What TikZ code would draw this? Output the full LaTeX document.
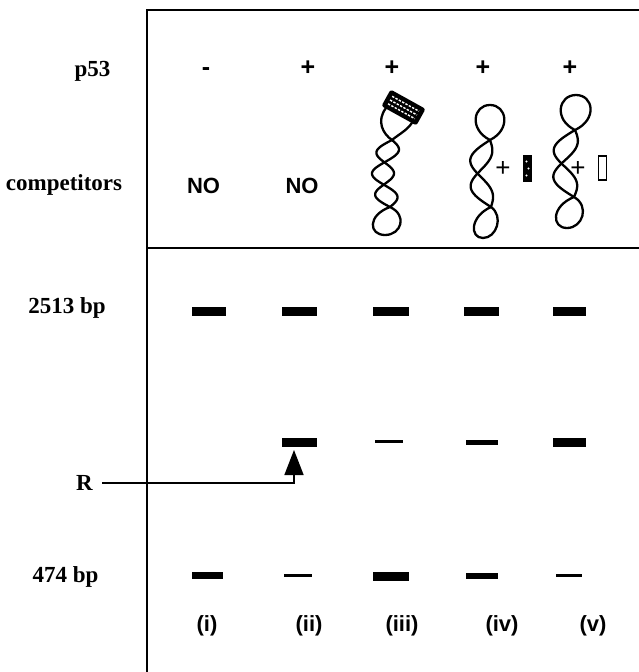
\documentclass[tikz,border=0pt]{standalone}
\usepackage{fontspec}
\setmainfont{Liberation Serif}
\newfontfamily\arialfont{Liberation Sans}
\usetikzlibrary{arrows.meta,calc}

% two strands of a twisted duplex between crossings (xT,yT) and (xB,yB)
% #5 = number of half turns, #6 = strand amplitude, #7 = sideways bow
\newcommand\dnapair[7]{%
  \foreach \sgn in {1,-1}{%
    \draw[dna] plot[domain=0:1,samples=60,smooth,variable=\t]
      ({#1+(#3-#1)*\t+#7*sin(180*\t)+\sgn*#6*sin(180*#5*\t)},{#2+(#4-#2)*\t});
  }%
}
% end loop of a duplex: crossing (#1,#2), loop centre x #3, extreme y #4, half width #5
\newcommand\dnaloop[5]{%
  \draw[dna] (#1,#2) .. controls ({#1-1.7*#5+0.5*(#3-#1)},{#2+0.3*(#4-#2)}) and ({#3-1.35*#5},#4) .. (#3,#4)
    .. controls ({#3+1.35*#5},#4) and ({#1+1.7*#5+0.5*(#3-#1)},{#2+0.3*(#4-#2)}) .. (#1,#2);
}

\tikzset{
  frame/.style={line width=1.6pt},
  dna/.style={line width=2.3pt, line join=round, line cap=round},
  band/.style={fill=black, draw=none, inner sep=0pt, outer sep=0pt},
  rowlabel/.style={font=\bfseries\fontsize{23}{26}\selectfont, inner sep=0pt},
  collabel/.style={font=\arialfont\bfseries\fontsize{22}{26}\selectfont, inner sep=0pt},
  signlabel/.style={font=\arialfont\bfseries\fontsize{25}{28}\selectfont, inner sep=0pt, anchor=base},
  thinplus/.style={font=\arialfont\fontsize{26}{28}\selectfont, inner sep=0pt},
  stripe/.style={white, line width=1.4pt, dash pattern=on 2.4pt off 1.4pt},
}

\begin{document}
\begin{tikzpicture}[x=1pt,y=-1pt]
\useasboundingbox (0,0) rectangle (639,672);

% frame
\coordinate (ftopleft) at (147,10);
\coordinate (ftopright) at (639,10);
\coordinate (fbottom) at (147,672);
\coordinate (fmidleft) at (147,248);
\coordinate (fmidright) at (639,248);
\draw[frame] (ftopright) -- (ftopleft) -- (fbottom);
\draw[frame] (fmidleft) -- (fmidright);

% row labels
\node[rowlabel] (p53) at (92.5,71) {p53};
\node[rowlabel] (comp) at (64,185) {competitors};
\node[rowlabel] (kb2513) at (67,308) {2513 bp};
\node[rowlabel] (R) at (84.5,483) {R};
\node[rowlabel] (bp474) at (65.5,577) {474 bp};

% p53 row
\node[signlabel] (p1) at (206,75) {-};
\node[signlabel] (p2) at (308,75) {+};
\node[signlabel] (p3) at (392,75) {+};
\node[signlabel] (p4) at (483,75) {+};
\node[signlabel] (p5) at (570,75) {+};

% competitors row
\node[collabel] (no1) at (203.5,185.5) {NO};
\node[collabel] (no2) at (302,185.5) {NO};

% (iii) duplex with bound protein
\dnapair{392}{140}{390}{207}{3}{11}{-8}
\dnaloop{390}{207}{385}{235}{12}
\draw[dna] (386,108) .. controls (376,121) and (383,134) .. (392,140);
\draw[dna] (414,119) .. controls (410,129) and (399,134) .. (392,140);
\node[fill=black, rotate=-29, minimum width=40pt, minimum height=19pt, inner sep=0pt, rounded corners=2.5pt] (cbox) at (403.5,107.5) {};
\foreach \f [count=\k] in {0.28,0.5,0.72}{
  \path ($(cbox.north west)!\f!(cbox.south west)$) coordinate (sl\k)
        ($(cbox.north east)!\f!(cbox.south east)$) coordinate (sr\k);
  \draw[stripe] ($(sl\k)!0.12!(sr\k)$) -- ($(sl\k)!0.88!(sr\k)$);
}

% (iv) duplex + dotted competitor
\dnaloop{490}{140}{490}{105}{12.5}
\dnapair{490}{140}{491}{207}{2}{10}{-13}
\dnaloop{491}{207}{483}{238}{10}
\node[thinplus] (plus4) at (503,169) {+};
\node[fill=black, minimum width=9pt, minimum height=27pt, inner sep=0pt] (dotbox) at (527.5,168.5) {};
\fill[white] ($(dotbox.center)+(-1,-7)$) circle (1.1pt)
             ($(dotbox.center)+(1,0)$) circle (1.1pt)
             ($(dotbox.center)+(-1,7)$) circle (1.1pt);

% (v) duplex + open competitor
\dnaloop{575}{130}{576}{95}{13}
\dnapair{575}{130}{574}{197}{2}{11}{-13}
\dnaloop{574}{197}{567}{228}{11.5}
\node[thinplus] (plus5) at (578,169) {+};
\node[draw, line width=1.5pt, fill=white, minimum width=8pt, minimum height=24pt, inner sep=0pt] (openbox) at (602.5,168) {};

% 2513 bp bands
\node[band, minimum width=34pt, minimum height=9pt] (a1) at (209,311) {};
\node[band, minimum width=35pt, minimum height=9pt] (a2) at (299.5,311) {};
\node[band, minimum width=36pt, minimum height=9pt] (a3) at (391,311) {};
\node[band, minimum width=35pt, minimum height=9pt] (a4) at (481.5,311) {};
\node[band, minimum width=33pt, minimum height=9pt] (a5) at (569.5,311) {};

% R bands
\node[band, minimum width=35pt, minimum height=9pt] (r2) at (299.5,442.5) {};
\node[band, minimum width=28pt, minimum height=3pt] (r3) at (389,441.5) {};
\node[band, minimum width=32pt, minimum height=5pt] (r4) at (482,442.5) {};
\node[band, minimum width=33pt, minimum height=9pt] (r5) at (569.5,442.5) {};

% 474 bp bands
\node[band, minimum width=31pt, minimum height=7pt] (c1) at (207.5,575.5) {};
\node[band, minimum width=28pt, minimum height=3pt] (c2) at (298,575) {};
\node[band, minimum width=36pt, minimum height=9pt] (c3) at (391,576.5) {};
\node[band, minimum width=32pt, minimum height=6pt] (c4) at (482,576) {};
\node[band, minimum width=26pt, minimum height=3pt] (c5) at (569,575) {};

% arrow marking R
\coordinate (rtip) at (294,450);
\draw[frame, shorten <=9pt, -{Triangle[width=19pt,length=25pt]}] (R.east) -| (rtip);

% lane labels
\node[collabel] (l1) at (207,626) {(i)};
\node[collabel] (l2) at (309,626) {(ii)};
\node[collabel] (l3) at (402,626) {(iii)};
\node[collabel] (l4) at (502,626) {(iv)};
\node[collabel] (l5) at (593,626) {(v)};
\end{tikzpicture}
\end{document}
